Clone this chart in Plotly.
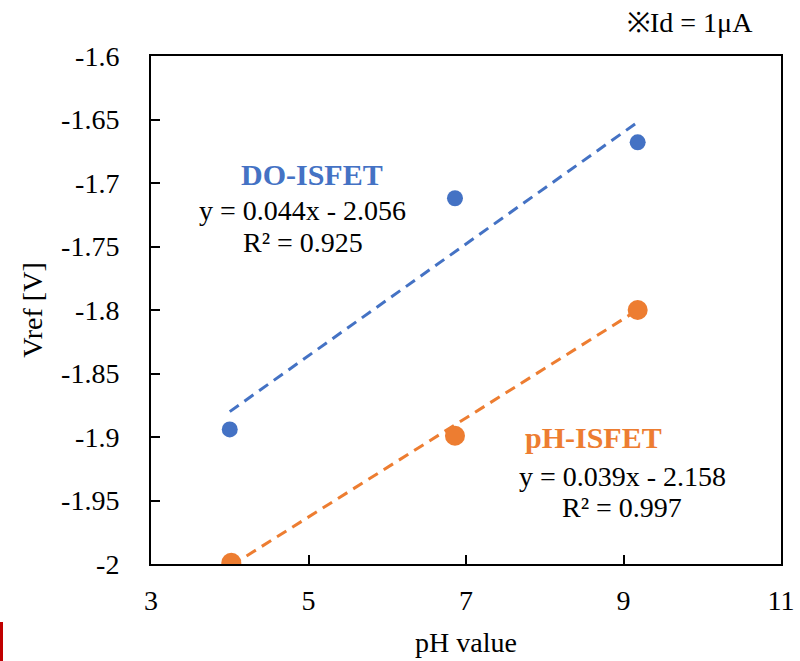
import plotly.graph_objects as go

# ---- data ----
do_ph = [4.0, 6.86, 9.18]
do_vref = [-1.894, -1.712, -1.668]
ph_ph = [4.02, 6.86, 9.18]
ph_vref = [-1.999, -1.899, -1.800]

do_fit = [0.044, -2.056]   # slope, intercept
ph_fit = [0.039, -2.158]

y_ticks = [-1.6, -1.65, -1.7, -1.75, -1.8, -1.85, -1.9, -1.95, -2.0]
y_ticktext = ["-1.6", "-1.65", "-1.7", "-1.75", "-1.8", "-1.85", "-1.9", "-1.95", "-2"]
x_ticks = [3, 5, 7, 9, 11]

BLUE = "#4472C4"
ORANGE = "#ED7D31"
FONT = "Liberation Serif"

def line_pts(xs, fit):
    x0, x1 = min(xs), max(xs)
    return [x0, x1], [fit[0] * x0 + fit[1], fit[0] * x1 + fit[1]]

fig = go.Figure()
lx, ly = line_pts(do_ph, do_fit)
fig.add_trace(go.Scatter(x=lx, y=ly, mode="lines",
                         line=dict(color=BLUE, width=3, dash="11px,7px"), showlegend=False))
lx, ly = line_pts(ph_ph, ph_fit)
fig.add_trace(go.Scatter(x=lx, y=ly, mode="lines",
                         line=dict(color=ORANGE, width=3, dash="11px,7px"), showlegend=False))
fig.add_trace(go.Scatter(x=do_ph, y=do_vref, mode="markers",
                         marker=dict(color=BLUE, size=16), showlegend=False))
fig.add_trace(go.Scatter(x=ph_ph, y=ph_vref, mode="markers",
                         marker=dict(color=ORANGE, size=20), showlegend=False))

PL, PR, PT, PB = 151, 781, 56, 564
W = PR - PL
H = PB - PT

def px(x):
    return (x - PL) / W

def py(y):
    return (PB - y) / H

annots = [
    ("<b>DO-ISFET</b>", 312, 174, BLUE, 30),
    ("y = 0.044x - 2.056", 302, 210, "black", 28),
    ("R² = 0.925", 303, 242, "black", 28),
    ("<b>pH-ISFET</b>", 593, 437, ORANGE, 30),
    ("y = 0.039x - 2.158", 622, 476, "black", 28),
    ("R² = 0.997", 622, 507, "black", 28),
    ("※Id = 1μA", 690, 23, "black", 28),
]
for t, x, y, c, s in annots:
    fig.add_annotation(text=t, x=px(x), y=py(y), xref="paper", yref="paper",
                       showarrow=False, xanchor="center", yanchor="middle",
                       font=dict(family=FONT, size=s, color=c))

fig.add_shape(type="rect", xref="paper", yref="paper",
              x0=px(0), x1=px(3), y0=py(622), y1=py(661),
              fillcolor="#C00000", line=dict(width=0))

fig.update_layout(
    width=800, height=661,
    margin=dict(l=PL, r=800 - PR, t=PT, b=661 - PB),
    paper_bgcolor="white", plot_bgcolor="white",
    font=dict(family=FONT, size=28, color="black"),
    xaxis=dict(range=[3, 11], tickvals=x_ticks, ticks="inside", ticklen=9,
               tickwidth=1.5, tickcolor="black", showline=True, linecolor="black",
               linewidth=2, mirror=True, showgrid=False, zeroline=False,
               ticklabelstandoff=10, automargin=False,
               title=dict(text="pH value", standoff=18, font=dict(size=28))),
    yaxis=dict(range=[-2, -1.6], tickvals=y_ticks, ticktext=y_ticktext,
               ticks="inside", ticklen=9, tickwidth=1.5, tickcolor="black",
               showline=True, linecolor="black", linewidth=2, mirror=True,
               showgrid=False, zeroline=False, ticklabelstandoff=24, automargin=False,
               title=dict(text="Vref [V]", standoff=10, font=dict(size=28))),
)

fig.write_html(
    "out.html",
    config={"displayModeBar": False},
    post_script="document.body.style.margin='0';document.body.style.overflow='hidden';",
)
